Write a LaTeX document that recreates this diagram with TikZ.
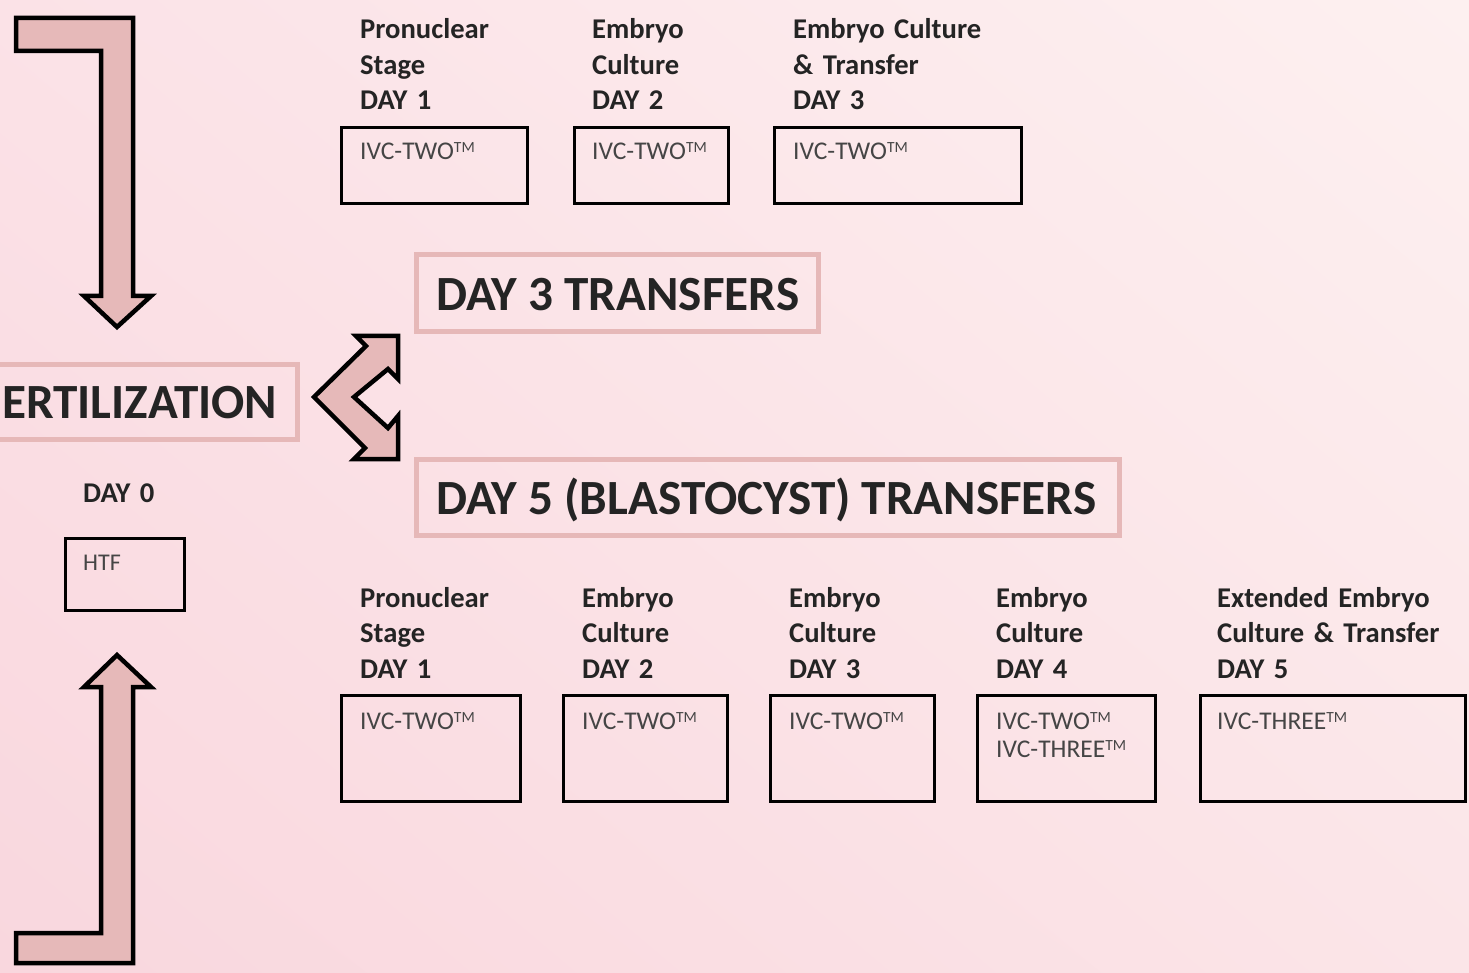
\documentclass[tikz,border=0pt]{standalone}
\usepackage{fontspec}
\setmainfont{Carlito}
\usetikzlibrary{shadings}
\definecolor{arrowfill}{RGB}{230,185,185}
\definecolor{pinkline}{RGB}{230,184,184}
\definecolor{txt}{RGB}{36,36,36}
\definecolor{bgul}{RGB}{251,226,231}
\definecolor{bgur}{RGB}{253,240,240}
\definecolor{bgll}{RGB}{249,215,222}
\definecolor{bglr}{RGB}{251,229,232}
\newcommand{\tmk}{\raisebox{6.6pt}{\fontsize{15.5}{15.5}\selectfont TM}}
\tikzset{
  blockarrow/.style={fill=arrowfill, draw=black, line width=4.5pt, line join=miter},
  bigbox/.style={draw=pinkline, line width=5pt},
  smallbox/.style={draw=black, line width=3pt},
  bigtext/.style={font=\fontsize{49.2}{55}\selectfont\bfseries, text=txt, inner sep=0pt, anchor=base west},
  header/.style={font=\fontsize{28.6}{35.5}\selectfont\bfseries, text=txt, inner sep=0pt, anchor=base west, text width=300pt, align=left},
  boxtext/.style={font=\fontsize{25.5}{28}\selectfont, text=txt!85!white, inner sep=0pt, anchor=base west, text width=250pt, align=left},
}
\begin{document}
\begin{tikzpicture}[x=1pt,y=-1pt]
\useasboundingbox (0,0) rectangle (1469,973);
\clip (0,0) rectangle (1469,973);
\shade[upper left=bgul, upper right=bgur, lower left=bgll, lower right=bglr] (0,0) rectangle (1469,973);

% bent arrows
\draw[blockarrow] (16,18) -- (133,18) -- (133,296) -- (151,296) -- (117,327) -- (84,296) -- (101,296) -- (101,51) -- (16,51) -- cycle;
\draw[blockarrow] (117,655) -- (151,687) -- (133,687) -- (133,963) -- (16,963) -- (16,933) -- (101,933) -- (101,687) -- (84,687) -- cycle;

% double arrow
\draw[blockarrow] (314,397) -- (366,346) -- (356,336) -- (398,336) -- (398,379) -- (388,369) -- (354,397) -- (388,428) -- (398,416) -- (398,459) -- (354,459) -- (365,448) -- cycle;

% big boxes
\draw[bigbox] (-10,364) rectangle (297,439);
\node[bigtext] (fert) at (2,418) {ERTILIZATION};
\draw[bigbox] (416,255) rectangle (818,332);
\node[bigtext] (d3) at (436,311) {DAY 3 TRANSFERS};
\draw[bigbox] (416,459) rectangle (1119,535);
\node[bigtext] (d5) at (436,514) {DAY 5 (BLASTOCYST) TRANSFERS};

% day 0
\node[header] (day0) at (83,502) {DAY 0};
\node[smallbox, minimum width=119pt, minimum height=72pt, anchor=north west] (htfbox) at (64,537) {};
\node[boxtext, font=\fontsize{24}{28}\selectfont] (htf) at (83,570) {HTF};

% top row (day 3 transfers)
\node[header] (th1) at (360,39) {Pronuclear\\Stage\\DAY 1};
\node[header] (th2) at (592,39) {Embryo\\Culture\\DAY 2};
\node[header] (th3) at (793,39) {Embryo Culture\\\& Transfer\\DAY 3};
\draw[smallbox] (341.5,127.5) rectangle (527.5,204);
\draw[smallbox] (574,127.5) rectangle (728.5,204);
\draw[smallbox] (774,127.5) rectangle (1021,204);
\node[boxtext] (tt1) at (360,159.5) {IVC-TWO\tmk};
\node[boxtext] (tt2) at (592,159.5) {IVC-TWO\tmk};
\node[boxtext] (tt3) at (793,159.5) {IVC-TWO\tmk};

% bottom row (day 5 transfers)
\node[header] (bh1) at (360,607) {Pronuclear\\Stage\\DAY 1};
\node[header] (bh2) at (582,607) {Embryo\\Culture\\DAY 2};
\node[header] (bh3) at (789,607) {Embryo\\Culture\\DAY 3};
\node[header] (bh4) at (996,607) {Embryo\\Culture\\DAY 4};
\node[header] (bh5) at (1217,607) {Extended Embryo\\Culture \& Transfer\\DAY 5};
\draw[smallbox] (341.5,695.5) rectangle (520,801.5);
\draw[smallbox] (563.5,695.5) rectangle (727,801.5);
\draw[smallbox] (770.5,695.5) rectangle (934,801.5);
\draw[smallbox] (977.5,695.5) rectangle (1155,801.5);
\draw[smallbox] (1200,695.5) rectangle (1465,801.5);
\node[boxtext] (bt1) at (360,729.5) {IVC-TWO\tmk};
\node[boxtext] (bt2) at (582,729.5) {IVC-TWO\tmk};
\node[boxtext] (bt3) at (789,729.5) {IVC-TWO\tmk};
\node[boxtext] (bt4) at (996,729.5) {IVC-TWO\tmk\\IVC-THREE\tmk};
\node[boxtext] (bt5) at (1217,729.5) {IVC-THREE\tmk};
\end{tikzpicture}
\end{document}
